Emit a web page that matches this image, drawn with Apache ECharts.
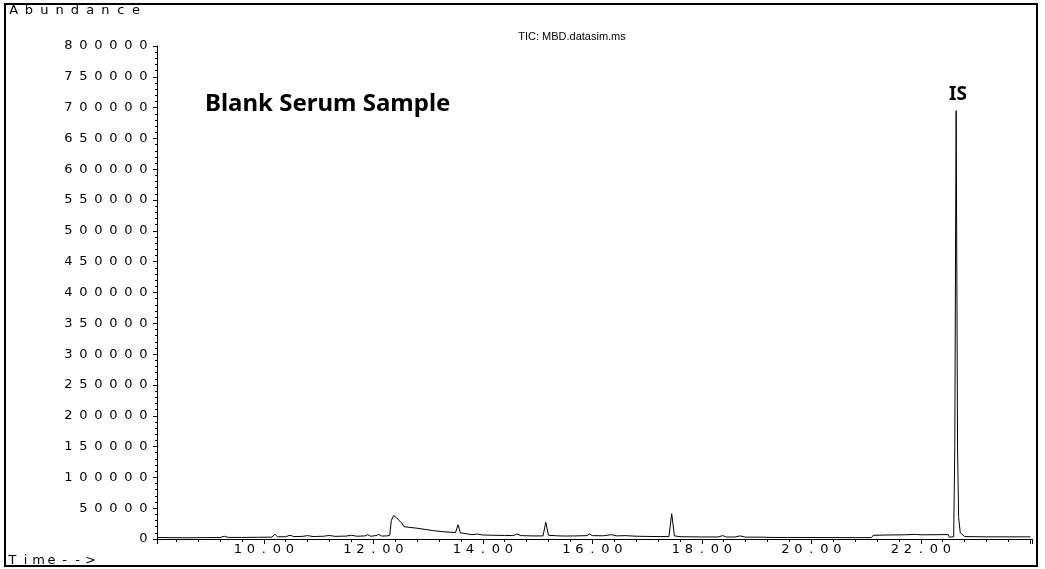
<!DOCTYPE html>
<html>
<head>
<meta charset="utf-8">
<script src="https://cdn.jsdelivr.net/npm/echarts@6/dist/echarts.min.js"></script>
<style>html,body{margin:0;padding:0;background:#fff}#c{width:1045px;height:569px}</style>
</head>
<body>
<div id="c"></div>
<script>
// Retention time (min)
const times = [
  8.05, 8.3, 8.6, 8.9, 9.2, 9.28, 9.35, 9.6, 9.9, 10.15, 10.2, 10.25, 10.4, 10.48, 10.55,
  10.7, 10.8, 10.9, 11.1, 11.2, 11.3, 11.5, 11.6, 11.7, 11.85, 11.9, 11.95, 12.05, 12.1, 12.15,
  12.25, 12.3, 12.33, 12.37, 12.42, 12.47, 12.52, 12.56, 12.65, 12.8, 12.95, 13.1, 13.25, 13.4,
  13.5, 13.55, 13.59, 13.7, 13.8, 13.9, 14.0, 14.2, 14.4, 14.55, 14.62, 14.7, 14.9, 15.1, 15.15,
  15.2, 15.35, 15.5, 15.7, 15.9, 15.95, 16.0, 16.2, 16.35, 16.45, 16.6, 16.8, 17.0, 17.2, 17.4,
  17.45, 17.5, 17.6, 17.8, 18.0, 18.3, 18.38, 18.45, 18.6, 18.7, 18.8, 19.1, 19.3, 19.6, 20.0,
  20.4, 20.8, 21.1, 21.13, 21.4, 21.7, 21.9, 22.0, 22.3, 22.5, 22.52, 22.6, 22.62, 22.635, 22.645,
  22.655, 22.67, 22.69, 22.72, 22.8, 23.2, 23.6, 24.0
];
// Total ion current abundance
const abundance = [
  2500, 2200, 2000, 2300, 2400, 4500, 2600, 2500, 2800, 3000, 8000, 3500, 3800, 6000, 4000,
  4200, 5500, 4000, 4500, 5800, 4300, 4700, 6000, 4500, 5000, 7000, 4500, 5500, 7500, 4800,
  5000, 6000, 30000, 38000, 35000, 30000, 26000, 20000, 19000, 17500, 15500, 13500, 12000, 11000,
  10500, 23000, 10000, 8500, 7000, 8000, 6500, 6000, 5800, 5500, 8000, 5500, 5000, 5000, 27000,
  6000, 5200, 4800, 5000, 5500, 8000, 5500, 5200, 7000, 5000, 5500, 4500, 4200, 4000, 4000,
  41000, 5000, 3800, 3500, 3300, 3300, 5500, 3200, 3200, 5000, 3000, 3000, 2500, 2500, 2400,
  2300, 2200, 2300, 6000, 6500, 6800, 7500, 6800, 7000, 7200, 3000, 3500, 150000, 500000, 695000,
  480000, 150000, 35000, 10000, 4000, 3500, 3500, 3500
];
const yTicks = { min: 0, max: 800000, step: 50000 };
const xRange = { min: 8.05, max: 24.03, lastLabel: 22 };

const wide = (s, key) => String(s).split('').map(ch => '{' + key + '|' + ch + '}').join('');
const charStyle = (w) => ({ width: w, align: 'center', fontSize: 13, fontWeight: 'normal', fontFamily: 'DejaVu Sans', color: '#000' });

const chart = echarts.init(document.getElementById('c'), null, { renderer: 'canvas' });
chart.setOption({
  animation: false,
  backgroundColor: '#fff',
  title: [
    { text: wide('Abundance', 'a'), left: 6, top: 4, padding: 0,
      textStyle: { fontSize: 13, fontWeight: 'normal', rich: { a: charStyle(15.3) } } },
    { text: wide('Time-->', 'a'), left: 6, top: 554, padding: 0,
      textStyle: { fontSize: 13, fontWeight: 'normal', rich: { a: charStyle(13) } } }
  ],
  graphic: [
    { type: 'rect', shape: { x: 5, y: 4, width: 1032, height: 562 },
      style: { fill: 'none', stroke: '#000', lineWidth: 2 }, silent: true },
    { type: 'text', x: 572, y: 37,
      style: { text: 'TIC: MBD.datasim.ms', font: '11px "Liberation Sans Narrow", "Liberation Sans", sans-serif',
        fill: '#000', textAlign: 'center', textVerticalAlign: 'middle' } },
    { type: 'text', x: 205, y: 104,
      style: { text: 'Blank Serum Sample', font: 'bold 24px "Noto Sans", sans-serif',
        fill: '#000', textAlign: 'left', textVerticalAlign: 'middle' } },
    { type: 'text', x: 958, y: 95,
      style: { text: 'IS', font: 'bold 19px "Noto Sans", sans-serif',
        fill: '#000', textAlign: 'center', textVerticalAlign: 'middle' } }
  ],
  grid: { left: 157, right: 13, top: 46, bottom: 30, containLabel: false, outerBoundsMode: 'none' },
  xAxis: {
    type: 'value', min: xRange.min, max: xRange.max, splitNumber: 8,
    axisLine: { show: true, lineStyle: { color: '#000', width: 1 } },
    axisTick: { show: true, length: 5, lineStyle: { color: '#000' } },
    minorTick: { show: true, splitNumber: 5, length: 3, lineStyle: { color: '#000' } },
    splitLine: { show: false },
    axisLabel: { showMinLabel: false, showMaxLabel: false, margin: 4, fontSize: 13,
      formatter: v => (v > xRange.lastLabel + 0.5 ? '' : wide(v.toFixed(2), 'c')), rich: { c: charStyle(13) } }
  },
  yAxis: {
    type: 'value', min: yTicks.min, max: yTicks.max, interval: yTicks.step,
    axisLine: { show: true, lineStyle: { color: '#000', width: 1 } },
    axisTick: { show: true, length: 4, lineStyle: { color: '#000' } },
    minorTick: { show: true, splitNumber: 5, length: 2, lineStyle: { color: '#000' } },
    splitLine: { show: false },
    axisLabel: { margin: 6, fontSize: 13, formatter: v => wide(String(v), 'c'), rich: { c: charStyle(15) } }
  },
  series: [{
    type: 'line', showSymbol: false, symbol: 'none', sampling: null,
    lineStyle: { color: '#000', width: 1 },
    data: times.map((t, i) => [t, abundance[i]])
  }]
});
</script>
</body>
</html>
